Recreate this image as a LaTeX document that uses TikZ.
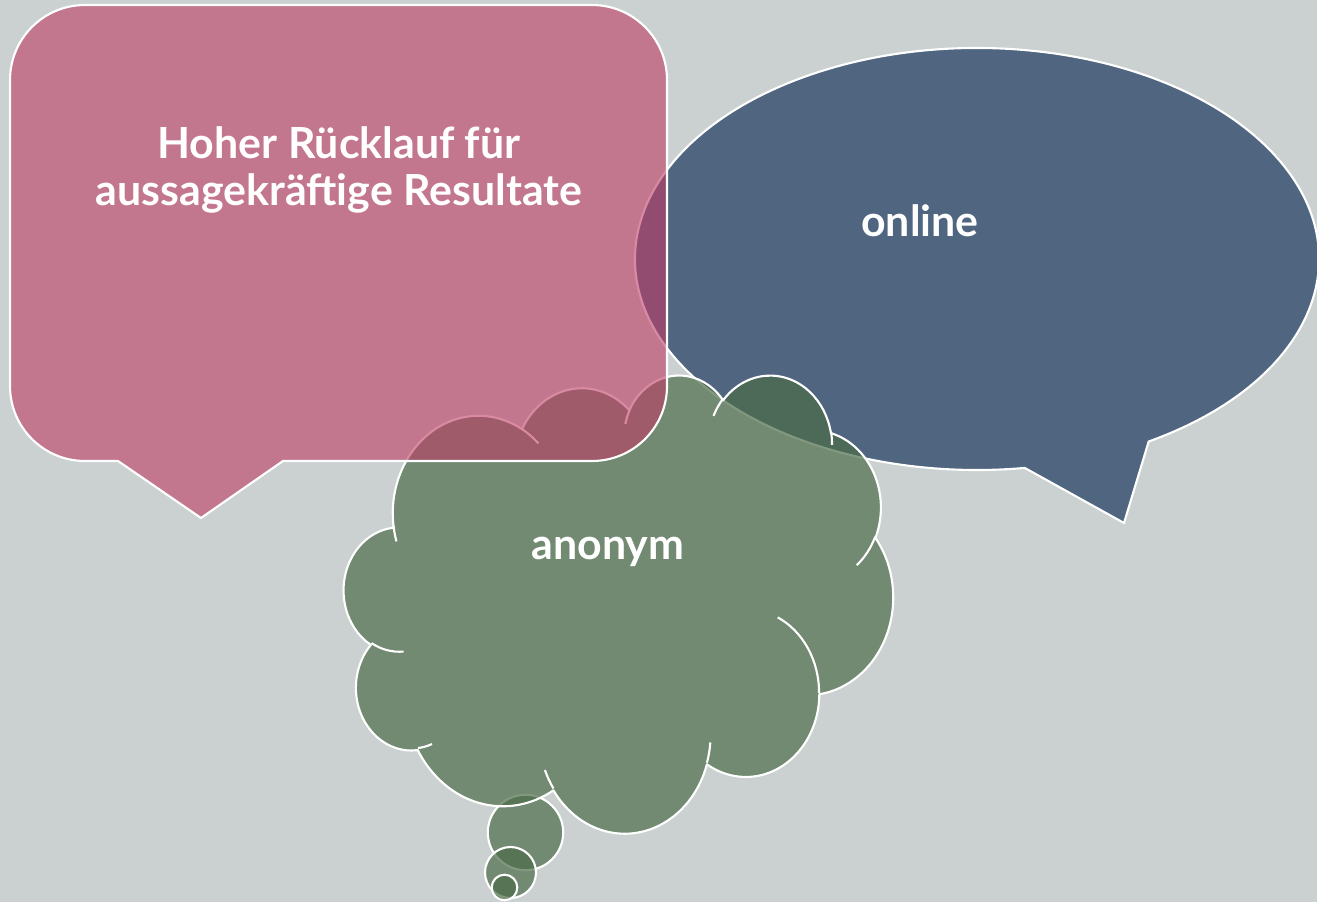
\documentclass[tikz,border=0pt]{standalone}
\usepackage{fontspec}
\setmainfont{Lato}
\definecolor{bgc}{RGB}{203,209,209}
\definecolor{bluec}{RGB}{80,101,128}
\definecolor{pinkc}{RGB}{191,60,100}
\definecolor{greenc}{RGB}{76,109,73}
\def\kk{1}
\newcommand\convarc[5]{%
  \pgfmathsetmacro\tmps{atan2(#2*\kk*sin(#4),#3*cos(#4))}%
  \pgfmathsetmacro\tmpe{atan2(#2*\kk*sin(#4+#5),#3*cos(#4+#5))}%
  \pgfmathsetmacro\tmpe{\tmpe+360*(\tmpe<\tmps)}%
  \expandafter\xdef\csname clds#1\endcsname{\tmps}%
  \expandafter\xdef\csname clde#1\endcsname{\tmpe}%
}
\convarc{A}{67.53}{91.90}{-190.48748}{123.78053}
\convarc{B}{53.33}{72.67}{-144.10238}{89.94523}
\convarc{C}{43.65}{59.45}{-145.80792}{99.72302}
\convarc{D}{48.57}{65.95}{-130.98607}{117.24173}
\convarc{E}{53.33}{72.73}{-78.70888}{109.02692}
\convarc{F}{67.75}{92.20}{-46.26725}{130.26900}
\convarc{G}{57.85}{78.67}{0.62502}{114.03333}
\convarc{H}{67.52}{92.15}{22.45160}{115.17255}
\convarc{I}{77.20}{105.43}{66.24263}{75.71102}
\convarc{J}{43.60}{59.18}{-274.94208}{146.73557}
\convarc{K}{43.45}{59.45}{-246.82850}{152.51885}
\convarc{a}{43.45}{59.45}{86.74200}{26.42950}
\convarc{b}{43.60}{59.18}{73.61047}{11.44747}
\convarc{c}{67.52}{92.15}{137.62415}{14.08110}
\convarc{d}{67.52}{92.15}{6.45327}{15.99835}
\convarc{e}{57.85}{78.67}{-70.29235}{70.91737}
\convarc{f}{53.33}{72.73}{30.31803}{27.75150}
\convarc{g}{48.57}{65.95}{-13.74433}{14.85890}
\convarc{h}{48.57}{65.95}{-149.18145}{18.19537}
\convarc{i}{43.65}{59.45}{-163.49427}{17.68635}
\convarc{j}{67.53}{91.90}{-66.70695}{12.31935}
\convarc{k}{67.53}{91.90}{157.65435}{11.85817}
\tikzset{
  shapeline/.style={draw=white, line width=1.2pt, line join=round},
  cloudfill/.style={shapeline, fill=greenc, fill opacity=.7},
  innerline/.style={draw=white, line width=1.2pt},
  lbl/.style={text=white, font=\bfseries\fontsize{24.4}{27.2}\selectfont, align=center, inner sep=0pt}
}
\begin{document}
\begin{tikzpicture}[x=0.02cm, y=-0.02cm]
\useasboundingbox (0,0) rectangle (1317,902);
\fill[bgc] (0,0) rectangle (1317,902);
\clip (0,0) rectangle (1317,902);
% blue ellipse callout
\coordinate (EC) at (977,259);
\path[shapeline, fill=bluec] ([shift={(59.87:342 and 211)}]EC)
  arc[start angle=59.87, end angle=-278.03, x radius=342, y radius=211]
  -- (1124,523) -- cycle;
% cloud callout
\path[cloudfill] (525.5,832.5) circle[radius=37.7];
\path[cloudfill] (510.5,872.5) circle[radius=25.5];
\path[cloudfill] (504.5,887.5) circle[radius=12.8];
\begin{scope}[shift={(344,374)}, x=0.025417cm, y=-0.021204cm]
\path[cloudfill] (39.00,143.70)
  arc[start angle=\cldsA, end angle=\cldeA, x radius=67.53, y radius=91.90]
  arc[start angle=\cldsB, end angle=\cldeB, x radius=53.33, y radius=72.67]
  arc[start angle=\cldsC, end angle=\cldeC, x radius=43.65, y radius=59.45]
  arc[start angle=\cldsD, end angle=\cldeD, x radius=48.57, y radius=65.95]
  arc[start angle=\cldsE, end angle=\cldeE, x radius=53.33, y radius=72.73]
  arc[start angle=\cldsF, end angle=\cldeF, x radius=67.75, y radius=92.20]
  arc[start angle=\cldsG, end angle=\cldeG, x radius=57.85, y radius=78.67]
  arc[start angle=\cldsH, end angle=\cldeH, x radius=67.52, y radius=92.15]
  arc[start angle=\cldsI, end angle=\cldeI, x radius=77.20, y radius=105.43]
  arc[start angle=\cldsJ, end angle=\cldeJ, x radius=43.60, y radius=59.18]
  arc[start angle=\cldsK, end angle=\cldeK, x radius=43.45, y radius=59.45]
  -- cycle;
\draw[innerline]
  (46.93,261.77) arc[start angle=\cldsa, end angle=\cldea, x radius=43.45, y radius=59.45]
  (69.28,348.99) arc[start angle=\cldsb, end angle=\cldeb, x radius=43.60, y radius=59.18]
  (164.78,390.90) arc[start angle=\cldsc, end angle=\cldec, x radius=67.52, y radius=92.15]
  (288.27,347.51) arc[start angle=\cldsd, end angle=\clded, x radius=67.52, y radius=92.15]
  (341.29,229.54) arc[start angle=\cldse, end angle=\cldee, x radius=57.85, y radius=78.67]
  (417.98,153.54) arc[start angle=\cldsf, end angle=\cldef, x radius=53.33, y radius=72.73]
  (383.24,54.26) arc[start angle=\cldsg, end angle=\cldeg, x radius=48.57, y radius=65.95]
  (290.78,39.52) arc[start angle=\cldsh, end angle=\cldeh, x radius=48.57, y radius=65.95]
  (221.41,47.20) arc[start angle=\cldsi, end angle=\cldei, x radius=43.65, y radius=59.45]
  (140.00,51.92) arc[start angle=\cldsj, end angle=\cldej, x radius=67.53, y radius=91.90]
  (41.27,157.89) arc[start angle=\cldsk, end angle=\cldek, x radius=67.53, y radius=91.90];
\end{scope}
% pink rounded rectangle callout
\path[shapeline, fill=pinkc, fill opacity=.6] (85,5) -- (592,5)
  arc[start angle=-90, end angle=0, radius=75] -- (667,386)
  arc[start angle=0, end angle=90, radius=75] -- (283,461) -- (201,518) -- (118,461) -- (85,461)
  arc[start angle=90, end angle=180, radius=75] -- (10,80)
  arc[start angle=180, end angle=270, radius=75] -- cycle;
% texts
\node[lbl, anchor=center] (t1) at (339,170) {Hoher Rücklauf für\\aussagekräftige Resultate};
\node[lbl, anchor=base] (t2) at (920,236) {online};
\node[lbl, anchor=base] (t3) at (608,559) {anonym};
\end{tikzpicture}
\end{document}
